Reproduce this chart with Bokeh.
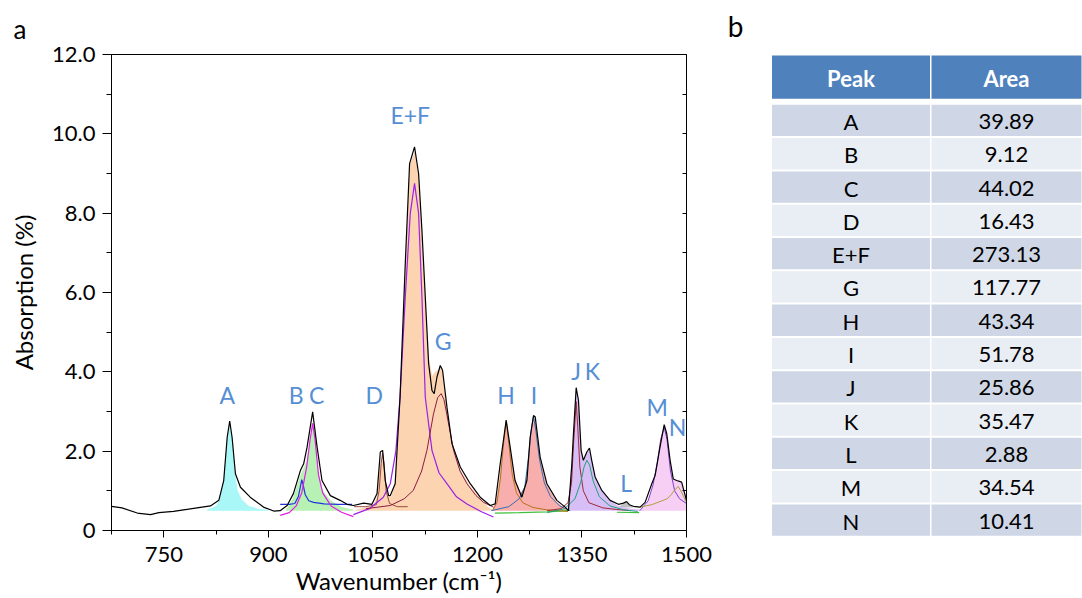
from bokeh.plotting import figure
from bokeh.models import Range1d, FixedTicker, LinearAxis
from bokeh.layouts import row
from bokeh.embed import file_html
from bokeh.resources import INLINE
from bokeh.core.properties import value

FONT = "Lato"
LABEL_BLUE = "#558ED5"

# ---------------- data: measured spectrum ----------------
spec_x = [675, 690, 712, 731, 743, 764, 793, 817, 829, 836, 841, 844.6, 848, 852.8, 860, 874, 893,
          907.7, 917, 927, 936, 946, 950.7, 955.6, 963.6, 970, 977, 989, 1003, 1013, 1022, 1036.7,
          1048.7, 1056, 1060.7, 1064, 1067.8, 1072.6, 1075, 1082, 1089, 1096.5, 1102.7, 1109.8,
          1115.6, 1120.4, 1125.2, 1130, 1134.8, 1138, 1142, 1146.7, 1150, 1156.3, 1163.5, 1175.4,
          1189.7, 1204, 1218.4, 1225.5, 1232.7, 1241.3, 1247, 1254, 1263.8, 1271, 1275.7, 1280.5,
          1283, 1290, 1299.7, 1314, 1326, 1330.6, 1335.5, 1337.8, 1341.7, 1345, 1348.8, 1352, 1357,
          1360.8, 1364, 1368.9, 1378.5, 1390.4, 1402.3, 1409.5, 1414, 1418, 1423.8, 1433.4, 1440.6,
          1450.2, 1455, 1462, 1468, 1471.7, 1476.5, 1481, 1486, 1493, 1500]
spec_y = [0.61, 0.57, 0.44, 0.40, 0.45, 0.48, 0.56, 0.62, 0.76, 1.26, 2.35, 2.76, 2.35, 1.43, 1.09, 0.84, 0.59,
          0.49, 0.50, 0.63, 0.93, 1.51, 1.68, 2.10, 2.99, 2.10, 1.26, 0.88, 0.76, 0.66, 0.63, 0.69,
          0.66, 0.93, 1.98, 2.02, 1.26, 0.88, 0.88, 1.18, 3.36, 6.73, 9.25, 9.67,
          9.00, 7.57, 5.89, 4.21, 3.53, 3.45, 3.87, 4.16, 4.04, 3.11, 2.19, 1.60,
          1.18, 0.84, 0.63, 0.67, 1.68, 2.78, 2.10, 1.26, 0.84, 1.26, 2.35, 2.90,
          2.86, 1.85, 1.18, 0.76, 0.59, 0.50, 1.68, 2.44, 3.60, 3.28, 2.02, 1.77, 1.98,
          2.08, 1.77, 1.35, 1.01, 0.76, 0.66, 0.69, 0.73, 0.65, 0.61, 0.59, 0.71,
          1.18, 1.39, 2.10, 2.67, 2.44, 1.77, 1.30, 1.26, 1.22, 0.76]

fill_base = 0.5

# filled areas
a_fill_x = [812, 825, 830, 836, 841, 844.6, 848, 852, 856, 862, 872, 885, 900]
a_fill_y = [0.52, 0.62, 0.78, 1.26, 2.35, 2.72, 2.35, 1.45, 1.00, 0.78, 0.62, 0.55, 0.52]

bc_fill_x = [925, 935, 945, 950, 955, 960, 963.6, 967, 972, 978, 990, 1005, 1022]
bc_fill_y = [0.52, 0.80, 1.35, 1.55, 1.75, 2.30, 2.65, 2.30, 1.45, 1.00, 0.75, 0.60, 0.52]

def_fill_x = [1025, 1040, 1050, 1056, 1060, 1064, 1068, 1072, 1076, 1082, 1089, 1096.5, 1102.7, 1109.8,
              1115.6, 1120.4, 1125.2, 1130, 1135, 1140, 1146.7, 1150, 1156, 1163.5, 1175, 1190, 1205,
              1215, 1222]
def_fill_y = [0.52, 0.58, 0.62, 0.85, 1.60, 1.95, 1.20, 0.85, 0.85, 1.20, 3.30, 6.70, 9.20, 9.55,
              8.95, 7.50, 5.85, 4.40, 3.90, 4.00, 4.10, 4.00, 3.10, 2.20, 1.55, 1.10, 0.80,
              0.60, 0.52]

hi_fill_x = [1222, 1228, 1233, 1241.3, 1247, 1254, 1262, 1268, 1272, 1276, 1280.5, 1284, 1290, 1300,
             1314, 1326, 1332]
hi_fill_y = [0.52, 0.80, 1.50, 2.75, 2.10, 1.30, 0.95, 1.10, 1.50, 2.30, 2.85, 2.70, 1.80, 1.15,
             0.72, 0.55, 0.50]

jk_fill_x = [1322, 1330, 1335, 1338, 1341.7, 1345, 1348.8, 1352, 1357, 1360.8, 1364, 1369, 1378,
             1390, 1402, 1420, 1440]
jk_fill_y = [0.50, 0.52, 1.60, 2.40, 3.50, 3.20, 2.00, 1.75, 1.95, 2.05, 1.75, 1.32, 1.00,
             0.75, 0.62, 0.55, 0.52]

l_fill_x = [1403, 1408, 1413, 1418, 1423]
l_fill_y = [0.60, 0.66, 0.72, 0.65, 0.60]

mn_fill_x = [1433, 1442, 1450, 1456, 1462, 1468, 1472, 1477, 1481, 1486, 1490, 1495, 1500]
mn_fill_y = [0.52, 0.65, 1.00, 1.50, 2.10, 2.60, 2.35, 1.70, 1.30, 1.25, 1.28, 1.10, 0.85]

# fitted component curves
b_x = [917, 930, 938, 943, 946, 948, 950, 953, 958, 965, 980, 1000, 1020]
b_y = [0.66, 0.66, 0.68, 0.85, 1.10, 1.28, 1.15, 0.90, 0.75, 0.71, 0.67, 0.66, 0.66]

c_x = [917, 930, 940, 948, 955, 960, 963.6, 967, 972, 978, 990, 1005, 1022]
c_y = [0.38, 0.45, 0.62, 0.95, 1.60, 2.30, 2.70, 2.30, 1.40, 0.95, 0.62, 0.46, 0.35]

d_x = [1023, 1040, 1055, 1059, 1062, 1064, 1066, 1069, 1074, 1085, 1100]
d_y = [0.60, 0.60, 0.65, 1.00, 1.70, 1.95, 1.70, 1.00, 0.68, 0.60, 0.60]

e_x = [1022, 1045, 1065, 1075, 1083, 1089, 1096.5, 1103.7, 1109.8, 1115.6, 1120.4, 1125.2, 1134.8,
       1145, 1156.3, 1170, 1185, 1205, 1223]
e_y = [0.40, 0.55, 0.84, 1.18, 2.00, 3.36, 5.89, 8.00, 8.75, 8.00, 5.89, 3.36, 2.02,
       1.45, 1.18, 0.85, 0.67, 0.48, 0.34]

g_x = [1040, 1075, 1095, 1108, 1120, 1127.6, 1137, 1143, 1148, 1152, 1156, 1165.8, 1175, 1185, 1198,
       1208.8, 1223]
g_y = [0.55, 0.63, 0.80, 1.01, 1.50, 2.02, 2.94, 3.35, 3.45, 3.30, 2.94, 2.02, 1.50, 1.18, 0.88,
       0.71, 0.59]

h_x = [1222, 1228, 1233, 1237, 1241.3, 1245, 1250, 1256, 1265, 1280, 1300, 1330]
h_y = [0.52, 0.70, 1.30, 2.10, 2.78, 2.20, 1.40, 0.95, 0.70, 0.58, 0.52, 0.48]

i_x = [1220, 1245, 1260, 1268, 1273, 1277, 1280.5, 1284, 1289, 1296, 1305, 1318, 1333]
i_y = [0.50, 0.60, 0.80, 1.10, 1.80, 2.50, 2.88, 2.50, 1.80, 1.20, 0.85, 0.62, 0.50]

base_x = [1225, 1260, 1300, 1330]
base_y = [0.44, 0.45, 0.47, 0.50]
base2_x = [1400, 1432]
base2_y = [0.46, 0.45]

j_x = [1300, 1320, 1330, 1335, 1338, 1341.7, 1344, 1347, 1352, 1360, 1380, 1400, 1420]
j_y = [0.50, 0.55, 0.70, 1.20, 2.20, 3.25, 2.60, 1.60, 1.00, 0.70, 0.57, 0.53, 0.50]

k_x = [1300, 1325, 1340, 1348, 1353, 1357, 1361, 1366, 1375, 1390, 1410, 1430]
k_y = [0.45, 0.55, 0.80, 1.20, 1.60, 1.77, 1.65, 1.25, 0.85, 0.62, 0.52, 0.48]

m_x = [1433, 1445, 1452, 1458, 1463, 1468, 1472, 1477, 1483, 1490, 1500]
m_y = [0.50, 0.75, 1.15, 1.70, 2.30, 2.60, 2.30, 1.50, 1.00, 0.80, 0.68]

n_x = [1433, 1450, 1465, 1472, 1478, 1483, 1488, 1492, 1496, 1500]
n_y = [0.59, 0.65, 0.75, 0.80, 0.90, 1.02, 1.11, 1.00, 0.85, 0.71]

# peak labels
peak_labels = ["A", "B", "C", "D", "E+F", "G", "H", "I", "J", "K", "L", "M", "N"]
label_x = [841.3, 940.0, 969.5, 1052.0, 1103.7, 1151.0, 1241.0, 1281.0, 1341.7, 1365.0, 1413.5, 1458.0, 1487.0]
label_y = [3.42, 3.42, 3.42, 3.42, 10.47, 4.77, 3.42, 3.42, 4.02, 4.02, 1.19, 3.11, 2.60]

# table
table_peaks = ["A", "B", "C", "D", "E+F", "G", "H", "I", "J", "K", "L", "M", "N"]
table_areas = ["39.89", "9.12", "44.02", "16.43", "273.13", "117.77", "43.34", "51.78", "25.86",
               "35.47", "2.88", "34.54", "10.41"]
table_header = ["Peak", "Area"]

y_major = [0, 2, 4, 6, 8, 10, 12]
y_minor = [1, 3, 5, 7, 9, 11]
x_major = [750, 900, 1050, 1200, 1350, 1500]
x_minor = [675, 825, 975, 1125, 1275, 1425]

# ---------------- chart ----------------
p = figure(width=715, height=598, x_range=Range1d(675, 1500), y_range=Range1d(0, 12),
           output_backend="svg", toolbar_location=None,
           min_border_left=111, min_border_right=29, min_border_top=54, min_border_bottom=68)
p.frame_align = False
p.background_fill_color = "white"
p.border_fill_color = "white"
p.outline_line_color = "black"
p.outline_line_width = 1
p.xgrid.visible = False
p.ygrid.visible = False

p.title.text = "a"
p.title.text_font = FONT
p.title.text_font_size = "26px"
p.title.text_font_style = "normal"
p.title.text_color = "black"
p.title.align = "left"
p.title.offset = -98
p.title.standoff = 19

# fills
p.varea(x=l_fill_x, y1=0.58, y2=l_fill_y, fill_color="#B8B8B8", fill_alpha=0.9)
p.varea(x=a_fill_x, y1=fill_base, y2=a_fill_y, fill_color="#A4F7F7", fill_alpha=0.95)
p.varea(x=bc_fill_x, y1=fill_base, y2=bc_fill_y, fill_color="#B4F0B0", fill_alpha=0.95)
p.varea(x=def_fill_x, y1=fill_base, y2=def_fill_y, fill_color="#FDD2AE", fill_alpha=0.95)
p.varea(x=hi_fill_x, y1=fill_base, y2=hi_fill_y, fill_color="#F7AAA8", fill_alpha=0.95)
p.varea(x=jk_fill_x, y1=fill_base, y2=jk_fill_y, fill_color="#D6BAF6", fill_alpha=0.95)
p.varea(x=mn_fill_x, y1=fill_base, y2=mn_fill_y, fill_color="#F7CCF3", fill_alpha=0.95)

# component lines
p.line(base_x, base_y, line_color="#3CC03C", line_width=1.2)
p.line(base2_x, base2_y, line_color="#3CC03C", line_width=1.2)
p.line(b_x, b_y, line_color="#2233DD", line_width=1.2)
p.line(c_x, c_y, line_color="#E020E0", line_width=1.2)
p.line(d_x, d_y, line_color="#9A4A3A", line_width=1.0)
p.line(e_x, e_y, line_color="#9B20E8", line_width=1.2)
p.line(g_x, g_y, line_color="#8B1C44", line_width=1.0)
p.line(h_x, h_y, line_color="#B8741A", line_width=1.0)
p.line(i_x, i_y, line_color="#3A6EB0", line_width=1.0)
p.line(j_x, j_y, line_color="#A02838", line_width=1.0)
p.line(k_x, k_y, line_color="#20A07A", line_width=1.0)
p.line(m_x, m_y, line_color="#8040C8", line_width=1.0)
p.line(n_x, n_y, line_color="#A8A040", line_width=1.0)

# measured spectrum
p.line(spec_x, spec_y, line_color="black", line_width=1.2)

# peak labels
p.text(x=label_x, y=label_y, text=peak_labels, text_align="center", text_baseline="middle",
       text_color=LABEL_BLUE, text_font=value(FONT), text_font_size="23px")

# axes
for ax in (p.xaxis[0], p.yaxis[0]):
    ax.axis_line_color = "black"
    ax.major_tick_line_color = "black"
    ax.minor_tick_line_color = "black"
    ax.major_tick_in = 0
    ax.minor_tick_in = 0
    ax.major_label_text_font = FONT
    ax.major_label_text_font_size = "22px"
    ax.major_label_text_color = "black"
    ax.axis_label_text_font = FONT
    ax.axis_label_text_font_size = "24px"
    ax.axis_label_text_font_style = "normal"
    ax.axis_label_text_color = "black"

p.xaxis.ticker = FixedTicker(ticks=x_major, minor_ticks=x_minor)
p.xaxis.major_tick_out = 7
p.xaxis.minor_tick_out = 4
p.xaxis.major_label_standoff = 9
p.xaxis.axis_label = "Wavenumber (cm\u207b\u00b9)"
p.xaxis.axis_label_standoff = 1

p.yaxis.ticker = FixedTicker(ticks=y_major, minor_ticks=y_minor)
p.yaxis.major_tick_out = 9
p.yaxis.minor_tick_out = 5
p.yaxis.major_label_standoff = 7
p.yaxis.major_label_overrides = {0: "0", 2: "2.0", 4: "4.0", 6: "6.0", 8: "8.0", 10: "10.0", 12: "12.0"}
p.yaxis.axis_label = "Absorption (%)"
p.yaxis.axis_label_standoff = 11

right = LinearAxis(ticker=FixedTicker(ticks=y_major + y_minor))
right.major_tick_in = 4
right.major_tick_out = 0
right.minor_tick_in = 0
right.minor_tick_out = 0
right.major_label_text_font_size = "0px"
right.major_label_standoff = 0
right.axis_line_color = "black"
p.add_layout(right, "right")

# ---------------- table ----------------
t = figure(width=367, height=598, x_range=Range1d(715, 1082), y_range=Range1d(598, 0),
           output_backend="svg", toolbar_location=None, min_border=0)
t.frame_align = False
t.axis.visible = False
t.xgrid.visible = False
t.ygrid.visible = False
t.outline_line_color = None
t.background_fill_color = "white"
t.border_fill_color = "white"

col_left = [771.5, 931]
col_right = [929.5, 1081]
col_cx = [(a + b) / 2 for a, b in zip(col_left, col_right)]
col_w = [b - a for a, b in zip(col_left, col_right)]
row_top0 = 104.3
row_pitch = 33.3
row_h = 31.3
n_rows = len(table_peaks)
row_cy = [row_top0 + i * row_pitch + row_h / 2 for i in range(n_rows)]
row_col = ["#CFD7E6" if i % 2 == 0 else "#E9EDF4" for i in range(n_rows)]

# header
t.rect(x=col_cx, y=[76.7, 76.7], width=col_w, height=[43.3, 43.3], fill_color="#4F81BD", line_color=None)
t.text(x=col_cx, y=[77.5, 77.5], text=table_header, text_align="center", text_baseline="middle",
       text_color="white", text_font=value(FONT), text_font_size="22px", text_font_style="bold")

for c in range(2):
    t.rect(x=[col_cx[c]] * n_rows, y=row_cy, width=col_w[c], height=row_h, fill_color=row_col, line_color=None)

t.text(x=[col_cx[0]] * n_rows, y=[y + 1 for y in row_cy], text=table_peaks, text_align="center",
       text_baseline="middle", text_color="black", text_font=value(FONT), text_font_size="22px")
t.text(x=[col_cx[1]] * n_rows, y=[y + 1 for y in row_cy], text=table_areas, text_align="center",
       text_baseline="middle", text_color="black", text_font=value(FONT), text_font_size="22px")

t.text(x=[735], y=[25], text=["b"], text_align="center", text_baseline="middle", text_color="black",
       text_font=value(FONT), text_font_size="28px")

layout = row(p, t)
open("out.html", "w").write(file_html(layout, INLINE))
